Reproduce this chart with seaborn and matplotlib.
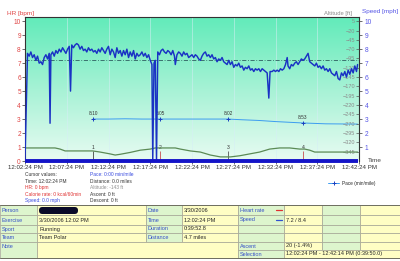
import numpy as np
import matplotlib
matplotlib.use("Agg")
import matplotlib.pyplot as plt
import seaborn as sns
from matplotlib.colors import LinearSegmentedColormap
from matplotlib.patches import Rectangle, FancyBboxPatch
from matplotlib.lines import Line2D

# ---------------- data ----------------
time_ticks = [0, 5, 10, 15, 20, 25, 30, 35, 40]
time_tick_labels = ["12:02:24 PM", "12:07:24 PM", "12:12:24 PM", "12:17:24 PM", "12:22:24 PM",
                    "12:27:24 PM", "12:32:24 PM", "12:37:24 PM", "12:42:24 PM"]
hr_ticks = [0, 1, 2, 3, 4, 5, 6, 7, 8, 9, 10]
speed_ticks = [1, 2, 3, 4, 5, 6, 7, 8, 9, 10]
alt_ticks = [5, -20, -45, -70, -95, -120, -145, -170, -195, -220, -245, -270, -295, -320, -345]

speed_time = [
    0.0, 0.3, 0.5, 0.7, 0.9, 1.1, 1.3, 1.5, 1.7, 1.9, 2.1, 2.3, 2.5, 2.7, 2.9, 3.0, 3.1, 3.3, 3.5, 3.7,
    3.9, 4.1, 4.3, 4.5, 4.7, 4.9, 5.1, 5.3, 5.45, 5.6, 5.8, 6.0, 6.2, 6.4, 6.6, 6.8, 7.0, 7.2, 7.4, 7.6,
    7.8, 8.0, 8.2, 8.4, 8.6, 8.8, 9.0, 9.2, 9.4, 9.6, 9.8, 10.0, 10.2, 10.4, 10.6, 10.8, 11.0, 11.2, 11.4, 11.6,
    11.8, 12.0, 12.2, 12.4, 12.6, 12.8, 13.0, 13.2, 13.4, 13.6, 13.8, 14.0, 14.2, 14.4, 14.6, 14.8, 15.0, 15.2, 15.3, 15.45,
    15.6, 15.75, 15.9, 16.1, 16.3, 16.5, 16.7, 16.9, 17.1, 17.3, 17.5, 17.7, 17.9, 18.0, 18.2, 18.4, 18.6, 18.8, 19.0, 19.2,
    19.4, 19.6, 19.8, 20.0, 20.2, 20.4, 20.6, 20.8, 21.0, 21.2, 21.4, 21.6, 21.8, 22.0, 22.2, 22.4, 22.6, 22.8, 23.0, 23.2,
    23.4, 23.6, 23.8, 24.0, 24.2, 24.4, 24.6, 24.8, 25.0, 25.2, 25.4, 25.6, 25.8, 26.0, 26.2, 26.4, 26.6, 26.8, 27.0, 27.2,
    27.4, 27.6, 27.8, 28.0, 28.2, 28.4, 28.6, 28.8, 29.0, 29.2, 29.35, 29.6, 29.8, 30.0, 30.2, 30.4, 30.6, 30.8, 31.0, 31.2,
    31.4, 31.5, 31.7, 31.9, 32.1, 32.3, 32.5, 32.7, 32.9, 33.1, 33.3, 33.5, 33.7, 33.9, 34.1, 34.3, 34.5, 34.7, 34.9, 35.1,
    35.3, 35.5, 35.7, 35.9, 36.1, 36.3, 36.5, 36.7, 36.9, 37.1, 37.3, 37.5, 37.7, 37.9, 38.1, 38.3, 38.5, 38.7, 38.9, 39.1,
    39.3, 39.5, 39.7, 39.83]
speed_mph = [
    0.0, 7.7, 7.5, 7.8, 7.4, 7.6, 7.2, 7.5, 7.0, 7.1, 6.9, 7.4, 7.6, 7.3, 7.7, 2.7, 7.6, 7.8, 7.5, 7.9,
    7.7, 8.0, 7.8, 8.1, 7.9, 7.7, 8.0, 8.2, 5.0, 8.3, 8.1, 8.3, 8.4, 8.3, 8.0, 8.2, 7.9, 8.0, 7.8, 8.1,
    7.9, 8.0, 7.8, 7.9, 7.7, 8.0, 7.8, 8.1, 7.9, 7.7, 8.0, 8.2, 7.6, 8.0, 7.8, 7.4, 8.1, 7.7, 7.9, 7.5,
    7.9, 7.6, 8.0, 7.4, 7.8, 7.5, 7.9, 7.3, 7.7, 7.5, 7.6, 7.8, 7.5, 7.7, 7.4, 7.6, 7.2, 6.9, 0.0, 7.0,
    7.2, 0.0, 7.8, 7.6, 7.9, 8.0, 7.8, 7.7, 7.9, 7.8, 7.6, 7.9, 7.5, 6.9, 7.6, 7.8, 7.7, 7.5, 7.8, 7.6,
    7.7, 7.4, 7.5, 7.6, 7.4, 7.6, 7.5, 7.3, 7.2, 7.5, 7.7, 7.8, 7.5, 7.6, 7.4, 7.6, 7.3, 7.4, 7.1, 7.3,
    7.2, 7.4, 7.1, 7.0, 6.9, 7.2, 6.9, 7.1, 6.7, 6.9, 6.8, 7.0, 6.7, 6.8, 6.5, 6.7, 6.6, 6.8, 6.5, 6.6,
    6.4, 6.6, 6.5, 6.6, 6.4, 6.6, 6.5, 6.4, 6.3, 4.5, 6.4, 6.4, 6.5, 6.4, 6.5, 6.4, 6.6, 6.5, 6.6, 6.9,
    7.4, 6.8, 6.6, 6.9, 6.8, 7.0, 7.1, 6.9, 7.1, 7.3, 7.2, 7.3, 7.5, 7.7, 7.1, 7.0, 6.9, 6.8, 7.0, 6.7,
    6.8, 6.6, 6.8, 6.5, 6.6, 6.4, 6.6, 6.3, 6.2, 6.1, 6.4, 5.9, 5.8, 6.3, 6.1, 6.4, 6.0, 6.5, 6.2, 6.6,
    6.3, 6.8, 6.4, 6.9]
avg_speed = 7.2

pace_time = [8.14, 10.0, 12.0, 14.0, 16.17, 18.0, 20.0, 22.0, 24.31, 26.0, 28.0, 30.0, 33.29, 36.0, 39.83]
pace_level = [3.0, 3.0, 3.02, 3.0, 3.0, 3.0, 3.0, 3.0, 3.0, 2.95, 2.9, 2.82, 2.72, 2.66, 2.64]

lap_time = [8.14, 16.17, 24.31, 33.29]
lap_pace_level = [3.0, 3.0, 3.0, 2.72]
lap_pace_text = ["8:10", "8:05", "8:02", "8:53"]
lap_number = ["1", "2", "3", "4"]

alt_time = [0.0, 3.6, 4.2, 4.8, 8.1, 9.0, 10.2, 10.8, 11.4, 12.6,
            13.8, 15.0, 15.6, 18.0, 18.6, 19.8, 21.0, 22.2, 23.4, 24.6,
            25.7, 26.9, 28.1, 29.3, 30.5, 31.7, 32.9, 33.5, 34.1, 34.7,
            36.5, 39.83]
alt_ft = [-335, -335, -338, -343, -343, -346, -351, -354, -352, -347,
          -341, -338, -335, -335, -338, -343, -346, -354, -359, -359,
          -356, -351, -346, -338, -335, -335, -338, -338, -341, -346,
          -346, -346]

selection = [0.0, 39.83]

cursor_left = ["Cursor values:", "Time: 12:02:24 PM", "HR: 0 bpm", "Calorie rate: 0 kcal/60min", "Speed: 0.0 mph"]
cursor_left_colors = ["#333333", "#333333", "#E03535", "#E03535", "#3A4CE0"]
cursor_right = ["Pace: 0:00 min/mile", "Distance: 0.0 miles", "Altitude: -143 ft", "Ascent: 0 ft", "Descent: 0 ft"]
cursor_right_colors = ["#3A4CE0", "#333333", "#909090", "#333333", "#333333"]

tbl_left_labels = ["Person", "Exercise", "Sport", "Team", "Note"]
tbl_left_values = ["", "3/30/2006 12:02 PM", "Running", "Team Polar", ""]
tbl_mid_labels = ["Date", "Time", "Duration", "Distance"]
tbl_mid_values = ["3/30/2006", "12:02:24 PM", "0:39:52.8", "4.7 miles"]
tbl_right_labels = ["Heart rate", "Speed", "", "", "Ascent", "Selection"]
tbl_right_values = ["", "7.2 / 8.4", "", "", "20 (-1.4%)", "12:02:24 PM - 12:42:14 PM (0:39:50.0)"]

# ---------------- style ----------------
sns.set_theme(style="white")
plt.rcParams['font.family'] = ['Liberation Sans', 'DejaVu Sans']

W, H = 400, 261
fig = plt.figure(figsize=(4, 2.61), dpi=100)
fig.patch.set_facecolor("white")

ov = fig.add_axes([0, 0, 1, 1])
ov.set_xlim(0, W)
ov.set_ylim(H, 0)
ov.axis("off")

ax = fig.add_axes([25 / W, 1 - 161 / H, (359 - 25) / W, (161 - 17) / H])
YTOP = 10.3

# gradient background
grad = np.linspace(0, 1, 256).reshape(-1, 1)
cmap = LinearSegmentedColormap.from_list("bg", ["#E8FBF2", "#A6F2D5", "#62EBBA"])
ax.imshow(grad, extent=[0, 40, 0, YTOP], origin="lower", aspect="auto", cmap=cmap,
          zorder=0, interpolation="bilinear")
ax.set_xlim(0, 40)
ax.set_ylim(0, YTOP)

ax.set_xticks(time_ticks, time_tick_labels)
ax.set_yticks(hr_ticks)
ax.grid(True, axis="x", color="#D6EEF6", lw=0.6, alpha=0.6)
ax.grid(False, axis="y")
ax.tick_params(axis="x", length=2, width=0.5, color="#333333", labelsize=4.4,
               labelcolor="#333333", pad=1.2, bottom=True)
ax.tick_params(axis="y", length=2, width=0.5, color="#333333", labelsize=4.7,
               labelcolor="#E04444", pad=1, left=True)
for side in ["top", "left", "right"]:
    ax.spines[side].set_color("#333333")
    ax.spines[side].set_linewidth(0.8)
ax.spines["bottom"].set_visible(False)

# average speed line
ax.axhline(avg_speed, color="#2E5E60", lw=0.6, ls=(0, (5, 2, 1, 2)), zorder=2)

# pace line + lap markers
sns.lineplot(x=pace_time, y=pace_level, ax=ax, color="#3C9CF0", lw=0.7,
             estimator=None, sort=False, zorder=3)
sns.scatterplot(x=lap_time, y=lap_pace_level, ax=ax, marker="+", s=7, color="#1A3FC0",
                linewidth=0.7, zorder=5)
for t, y, txt in zip(lap_time, lap_pace_level, lap_pace_text):
    ax.text(t, y + 0.38, txt, fontsize=3.4, color="#333333", ha="center", va="center", zorder=6)

lap_colors = ["#444444", "#C85050", "#555555", "#C85050"]
ax.vlines(lap_time, 0, 0.72, colors=lap_colors, lw=0.6, zorder=3)
for t, n in zip(lap_time, lap_number):
    ax.text(t, 0.98, n, fontsize=3.6, color="#333333", ha="center", va="center", zorder=6)
ax.set_xlabel("")
ax.set_ylabel("")

# altitude axis (labels inside, at right spine)
ax_alt = ax.twinx()
ax_alt.set_ylim(-370, 5 + (YTOP - 10) * 37.5)
sns.lineplot(x=alt_time, y=alt_ft, ax=ax_alt, color="#5B8A55", lw=0.9,
             estimator=None, sort=False)
ax_alt.yaxis.set_ticks_position("left")
ax_alt.spines["left"].set_position(("axes", 1.0))
for s in ax_alt.spines.values():
    s.set_visible(False)
ax_alt.set_yticks(alt_ticks)
ax_alt.tick_params(axis="y", length=2, width=0.5, color="#555555", labelsize=4.0,
                   labelcolor="#8C8C8C", pad=0.8, left=True, right=False)
ax_alt.set_xlabel("")
ax_alt.set_ylabel("")
ax_alt.set_xlim(0, 40)

# speed axis (right)
ax_sp = ax.twinx()
ax_sp.set_ylim(0, YTOP)
sns.lineplot(x=speed_time, y=speed_mph, ax=ax_sp, color="#1A32C4", lw=1.05,
             estimator=None, sort=False)
sel = ax_sp.hlines(0, selection[0], selection[1], colors="#1414C8", lw=2.8, zorder=6, clip_on=False)
sel.set_capstyle("butt")
for s in ax_sp.spines.values():
    s.set_visible(False)
ax_sp.set_yticks(speed_ticks)
ax_sp.tick_params(axis="y", length=2.5, width=0.5, color="#333333", labelsize=4.8,
                  labelcolor="#5555E6", pad=1.5, right=True, left=False)
ax_sp.set_xlabel("")
ax_sp.set_ylabel("")
ax_sp.set_xlim(0, 40)

# axis titles
ov.text(7, 13, "HR [bpm]", color="#E04444", fontsize=4.6, ha="left", va="center")
ov.text(352, 14, "Altitude [ft]", color="#8C8C8C", fontsize=4.2, ha="right", va="center")
ov.text(362, 12, "Speed [mph]", color="#5555E6", fontsize=4.6, ha="left", va="center")
ov.text(368, 161, "Time", color="#444444", fontsize=4.6, ha="left", va="center")

# legend
h = Line2D([], [], color="#3C9CF0", lw=0.7, marker="+", ms=3, mec="#1A3FC0", mew=0.7)
fig.legend([h], ["Pace (min/mile)"], loc="center left", bbox_to_anchor=(328 / W, 1 - 183 / H),
           frameon=False, fontsize=3.4, handlelength=2.4, handletextpad=0.5, borderpad=0,
           borderaxespad=0)

# cursor values
for i, (txt, c) in enumerate(zip(cursor_left, cursor_left_colors)):
    ov.text(25, 175 + 6.4 * i, txt, color=c, fontsize=3.5, ha="left", va="center")
for i, (txt, c) in enumerate(zip(cursor_right, cursor_right_colors)):
    ov.text(90, 175 + 6.4 * i, txt, color=c, fontsize=3.5, ha="left", va="center")

# table
GREEN = "#DDF5CD"
YELLOW = "#FFFEC4"
EDGE = "#A4A494"
LBL = "#3550C8"
VAL = "#262626"
FS = 4.0


def cell(x0, x1, y0, y1, fc, text="", tc=VAL):
    ov.add_patch(Rectangle((x0, y0), x1 - x0, y1 - y0, facecolor=fc, edgecolor=EDGE, lw=0.5))
    if text:
        ov.text(x0 + 2, (y0 + y1) / 2, text, color=tc, fontsize=FS, ha="left", va="center")


rows = [(205, 215), (215, 225), (225, 233), (233, 242), (242, 250), (250, 258)]
for i in range(4):
    y0, y1 = rows[i]
    cell(0, 37, y0, y1, GREEN, tbl_left_labels[i], LBL)
    cell(37, 146, y0, y1, YELLOW, tbl_left_values[i])
    cell(146, 182, y0, y1, GREEN, tbl_mid_labels[i], LBL)
    cell(182, 238, y0, y1, YELLOW, tbl_mid_values[i])
cell(0, 37, 242, 258, GREEN, "", LBL)
ov.text(2, 246, tbl_left_labels[4], color=LBL, fontsize=FS, ha="left", va="center")
cell(37, 238, 242, 258, YELLOW)
for i in range(6):
    y0, y1 = rows[i]
    cell(238, 284, y0, y1, GREEN, tbl_right_labels[i], LBL)
    if i < 5:
        cell(284, 322, y0, y1, YELLOW, tbl_right_values[i])
        cell(322, 360, y0, y1, GREEN)
        cell(360, 400, y0, y1, YELLOW)
    else:
        cell(284, 400, y0, y1, YELLOW, tbl_right_values[i])
ov.plot([0, 400], [205, 205], color="#6E6E60", lw=0.7)
ov.plot([0, 400], [258, 258], color="#6E6E60", lw=0.7)
ov.plot([276, 282], [210, 210], color="#E03030", lw=0.9)
ov.plot([276, 282], [220, 220], color="#3050D0", lw=0.9)
ov.add_patch(FancyBboxPatch((39, 207), 39, 7, boxstyle="round,pad=0,rounding_size=3.4",
                            facecolor="#0A0A28", edgecolor="none"))

fig.savefig("out.png", dpi=100)
